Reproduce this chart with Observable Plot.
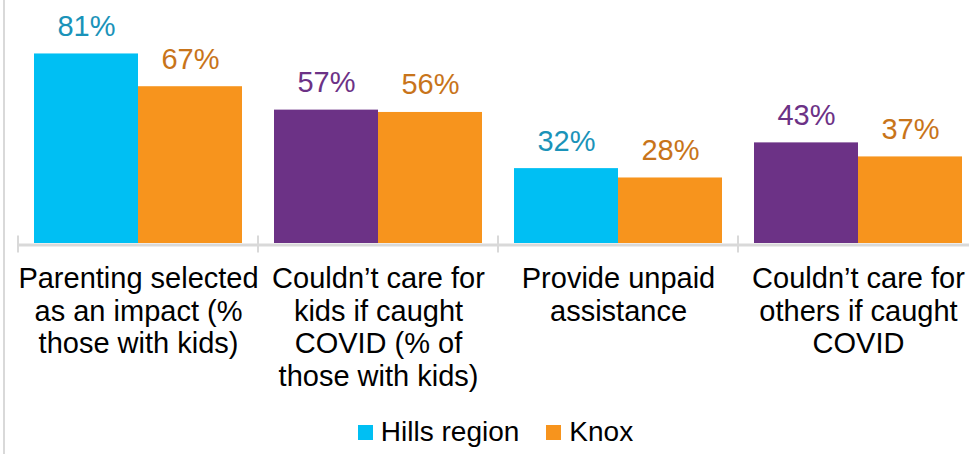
<!DOCTYPE html>
<html>
<head>
<meta charset="utf-8">
<script src="https://cdn.jsdelivr.net/npm/d3@7"></script>
<script src="https://cdn.jsdelivr.net/npm/@observablehq/plot@0.6"></script>
<style>
  html, body { margin: 0; padding: 0; background: #fff; overflow: hidden; }
  #wrap { position: relative; width: 969px; height: 454px; font-family: Arial, "Liberation Sans", sans-serif; }
  #wrap::before { content: ""; position: absolute; left: 3px; top: 0; width: 2px; height: 454px; background: #d9d9d9; }
  #chart svg { display: block; overflow: visible; }
  #legend { display: flex; justify-content: center; align-items: center; height: 44px; padding-left: 22px; box-sizing: border-box; width: 969px; font-size: 28px; color: #000; }
  .item { display: flex; align-items: center; }
  .item + .item { margin-left: 27px; }
  .sw { width: 15px; height: 15px; margin-right: 8px; }
</style>
</head>
<body>
<div id="wrap">
  <div id="chart"></div>
  <div id="legend"></div>
</div>
<script>
// ---- data ----
const groups = [
  "Parenting selected\nas an impact (%\nthose with kids)",
  "Couldn’t care for\nkids if caught\nCOVID (% of\nthose with kids)",
  "Provide unpaid\nassistance",
  "Couldn’t care for\nothers if caught\nCOVID"
];
const series = ["Hills region", "Knox"];
const hillsValues = [81, 57, 32, 43];
const knoxValues = [67, 56, 28, 37];

// ---- styles ----
const CYAN = "#00BFF3", CYAN_TXT = "#1A93B9";
const PURPLE = "#6C3286", PURPLE_TXT = "#6C3286";
const ORANGE = "#F7941D", ORANGE_TXT = "#C8741A";
const AXIS_GRAY = "#d9d9d9";

const rows = groups.flatMap((g, i) => [
  {group: g, series: series[0], value: hillsValues[i], idx: i},
  {group: g, series: series[1], value: knoxValues[i], idx: i}
]);
const fillOf = d => d.series === "Knox" ? ORANGE : (d.idx % 2 ? PURPLE : CYAN);
const textOf = d => d.series === "Knox" ? ORANGE_TXT : (d.idx % 2 ? PURPLE_TXT : CYAN_TXT);

const FONT = 'Arial, "Liberation Sans", sans-serif';
const H = 410;

const plot = Plot.plot({
  width: 969,
  height: H,
  marginLeft: 17,
  marginRight: -9,
  marginTop: 9,
  marginBottom: H - 243,
  style: {fontFamily: FONT, background: "transparent"},
  fx: {domain: groups, padding: 0, axis: null},
  x: {domain: series, paddingInner: 0, paddingOuter: 0.1537, axis: null},
  y: {domain: [0, 100], axis: null},
  marks: [
    Plot.ruleY([0], {stroke: AXIS_GRAY, strokeWidth: 3, dy: 1.5}),
    Plot.barY(rows, {fx: "group", x: "series", y: "value", fill: fillOf}),
    Plot.text(rows, {fx: "group", x: "series", y: "value", text: d => d.value + "%",
      fill: textOf, fontSize: 29, lineAnchor: "bottom", dy: -18}),
    Plot.text(groups, {fx: d => d, text: d => d, frameAnchor: "bottom", lineAnchor: "top",
      dy: 21, fontSize: 29, lineHeight: 1.13, fill: "#000"})
  ]
});

// category boundary ticks on the baseline, positioned by the fx and y scales
const fx = plot.scale("fx");
const ys = plot.scale("y");
const y0 = ys.apply(0) + 1.5;
const bw = fx.bandwidth;
const edges = groups.map(g => fx.apply(g)).concat([fx.apply(groups[groups.length - 1]) + bw]);
d3.select(plot).append("g")
  .selectAll("line").data(edges).join("line")
  .attr("x1", d => d).attr("x2", d => d)
  .attr("y1", y0 - 9).attr("y2", y0 + 8)
  .attr("stroke", AXIS_GRAY).attr("stroke-width", 2);

document.getElementById("chart").append(plot);

// legend
const legend = document.getElementById("legend");
[[series[0], CYAN], [series[1], ORANGE]].forEach(([name, c]) => {
  const it = document.createElement("div");
  it.className = "item";
  it.innerHTML = `<div class="sw" style="background:${c}"></div><span>${name}</span>`;
  legend.append(it);
});
</script>
</body>
</html>
